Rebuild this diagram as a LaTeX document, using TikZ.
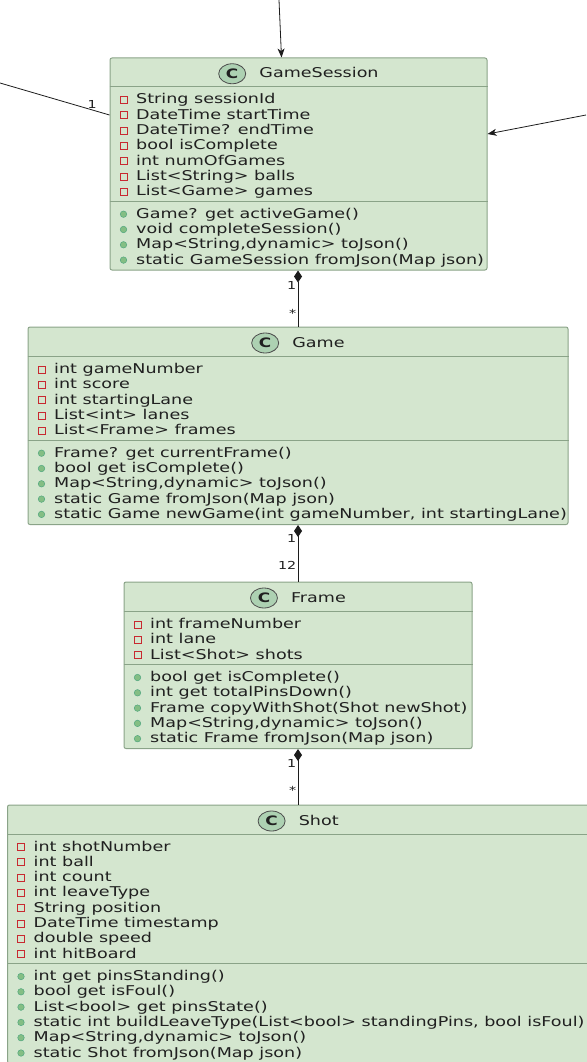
\documentclass[tikz,border=0pt]{standalone}
\usepackage{fontspec}
\setmainfont{DejaVu Sans}[FakeStretch=1.30]
\usetikzlibrary{arrows.meta,calc,shapes.geometric}

\definecolor{boxfill}{RGB}{212,230,207}
\definecolor{boxline}{RGB}{138,163,136}
\definecolor{spotfill}{RGB}{173,209,178}
\definecolor{privline}{RGB}{200,41,48}
\definecolor{pubfill}{RGB}{132,190,132}
\definecolor{publine}{RGB}{3,128,72}
\definecolor{ink}{RGB}{32,32,32}
\definecolor{wire}{RGB}{28,28,28}

\tikzset{
  classbox/.style={rectangle, draw=boxline, fill=boxfill, line width=1pt,
    rounded corners=2pt, inner sep=0pt},
  sepline/.style={draw=boxline, line width=1pt},
  rowtext/.style={anchor=base west, inner sep=0pt, text=ink,
    font=\fontsize{13.5}{15}\selectfont},
  headtext/.style={anchor=base, inner sep=0pt, text=ink,
    font=\fontsize{13.5}{15}\selectfont},
  spot/.style={ellipse, draw=ink!80, line width=0.8pt, fill=spotfill,
    minimum width=27pt, minimum height=20pt, inner sep=0pt,
    font=\fontsize{13}{15}\bfseries\selectfont, text=ink},
  privicon/.style={rectangle, draw=privline, line width=0.8pt,
    minimum size=7pt, inner sep=0pt},
  pubicon/.style={circle, draw=publine!70, line width=0.5pt, fill=pubfill,
    minimum size=6.5pt, inner sep=0pt},
  multlabel/.style={anchor=base east, inner sep=0pt, text=ink,
    font=\fontsize{11}{13}\selectfont},
  comp/.style={draw=wire, line width=0.9pt,
    {Diamond[length=12pt,width=8pt,fill=wire]}-},
  assoc/.style={draw=wire, line width=0.8pt,
    -{Stealth[length=9pt,width=7pt,inset=2.5pt]}},
  plainwire/.style={draw=wire, line width=0.8pt}
}

% rows of a class compartment: name prefix, box left x, first row y, icon style, entries
\newcommand{\umlrows}[5]{%
  \foreach \txt [count=\k from 0] in {#5} {
    \pgfmathsetmacro{\yy}{#3+15.3*\k}
    \node[#4] (#1i\k) at (#2+13.5,\yy+1) {};
    \node[rowtext] (#1t\k) at (#2+26,\yy+5) {\txt};
  }%
}

\begin{document}
\begin{tikzpicture}[x=1pt,y=-1pt]
\useasboundingbox (0,0) rectangle (586,1062);

% ---------------- GameSession ----------------
\node[classbox, minimum width=377pt, minimum height=212pt] (gs) at (298.5,164) {};
\draw[sepline] ([yshift=-29.5pt]gs.north west) -- ([yshift=-29.5pt]gs.north east);
\draw[sepline] ([yshift=-144pt]gs.north west) -- ([yshift=-144pt]gs.north east);
\node[headtext] (gsname) at (319,77.75) {GameSession};
\node[spot] (gsspot) at ($(gsname.base west)+(-27pt,4pt)$) {C};
\umlrows{gsa}{110}{99}{privicon}{String sessionId, DateTime startTime,
  DateTime? endTime, bool isComplete, int numOfGames,
  List<String> balls, List<Game> games}
\umlrows{gsm}{110}{213.2}{pubicon}{Game? get activeGame(), void completeSession(),
  {Map<String,dynamic> toJson()}, static GameSession fromJson(Map json)}

% ---------------- Game ----------------
\node[classbox, minimum width=540pt, minimum height=197.5pt] (game) at (298,425.75) {};
\draw[sepline] ([yshift=-30pt]game.north west) -- ([yshift=-30pt]game.north east);
\draw[sepline] ([yshift=-114pt]game.north west) -- ([yshift=-114pt]game.north east);
\node[headtext] (gamename) at (318.5,347) {Game};
\node[spot] (gamespot) at ($(gamename.base west)+(-27pt,4pt)$) {C};
\umlrows{gma}{28}{368.5}{privicon}{int gameNumber, int score, int startingLane,
  List<int> lanes, List<Frame> frames}
\umlrows{gmm}{28}{452.2}{pubicon}{Frame? get currentFrame(), bool get isComplete(),
  {Map<String,dynamic> toJson()}, static Game fromJson(Map json),
  {static Game newGame(int gameNumber, int startingLane)}}

% ---------------- Frame ----------------
\node[classbox, minimum width=348pt, minimum height=166.5pt] (frame) at (298,665.25) {};
\draw[sepline] ([yshift=-30pt]frame.north west) -- ([yshift=-30pt]frame.north east);
\draw[sepline] ([yshift=-83.3pt]frame.north west) -- ([yshift=-83.3pt]frame.north east);
\node[headtext] (framename) at (318.5,602) {Frame};
\node[spot] (framespot) at ($(framename.base west)+(-27pt,4pt)$) {C};
\umlrows{fra}{124}{623.5}{privicon}{int frameNumber, int lane, List<Shot> shots}
\umlrows{frm}{124}{676.5}{pubicon}{bool get isComplete(), int get totalPinsDown(),
  Frame copyWithShot(Shot newShot), {Map<String,dynamic> toJson()},
  static Frame fromJson(Map json)}

% ---------------- Shot ----------------
\node[classbox, minimum width=581.5pt, minimum height=258pt] (shot) at (298.25,934) {};
\draw[sepline] ([yshift=-29.5pt]shot.north west) -- ([yshift=-29.5pt]shot.north east);
\draw[sepline] ([yshift=-159.3pt]shot.north west) -- ([yshift=-159.3pt]shot.north east);
\node[headtext] (shotname) at (318.75,825) {Shot};
\node[spot] (shotspot) at ($(shotname.base west)+(-27pt,4pt)$) {C};
\umlrows{sha}{7.5}{846}{privicon}{int shotNumber, int ball, int count, int leaveType,
  String position, DateTime timestamp, double speed, int hitBoard}
\umlrows{shm}{7.5}{975.5}{pubicon}{int get pinsStanding(), bool get isFoul(),
  List<bool> get pinsState(),
  {static int buildLeaveType(List<bool> standingPins, bool isFoul)},
  {Map<String,dynamic> toJson()}, static Shot fromJson(Map json)}

% ---------------- compositions ----------------
\draw[comp] (game.north |- gs.south) -- (game.north);
\node[multlabel] (m1a) at (296.5,289) {1};
\node[multlabel] (m1b) at (296.5,317) {*};

\draw[comp] (frame.north |- game.south) -- (frame.north);
\node[multlabel] (m2a) at (296.5,542) {1};
\node[multlabel] (m2b) at (296.5,569) {12};

\draw[comp] (frame.south) -- (shot.north -| frame.south);
\node[multlabel] (m3a) at (296.5,767) {1};
\node[multlabel] (m3b) at (296.5,794) {*};

% ---------------- links leaving the picture ----------------
\coordinate (topend) at (279,0);
\coordinate (leftend) at (0,83);
\coordinate (rightend) at (586,115);
\draw[assoc] (topend) -- ([xshift=-17pt]gs.north);
\draw[plainwire] (leftend) -- ([yshift=49pt]gs.west);
\node[multlabel] (m0) at (97,109) {1};
\draw[assoc] (rightend) -- ([yshift=30pt]gs.east);
\end{tikzpicture}
\end{document}
